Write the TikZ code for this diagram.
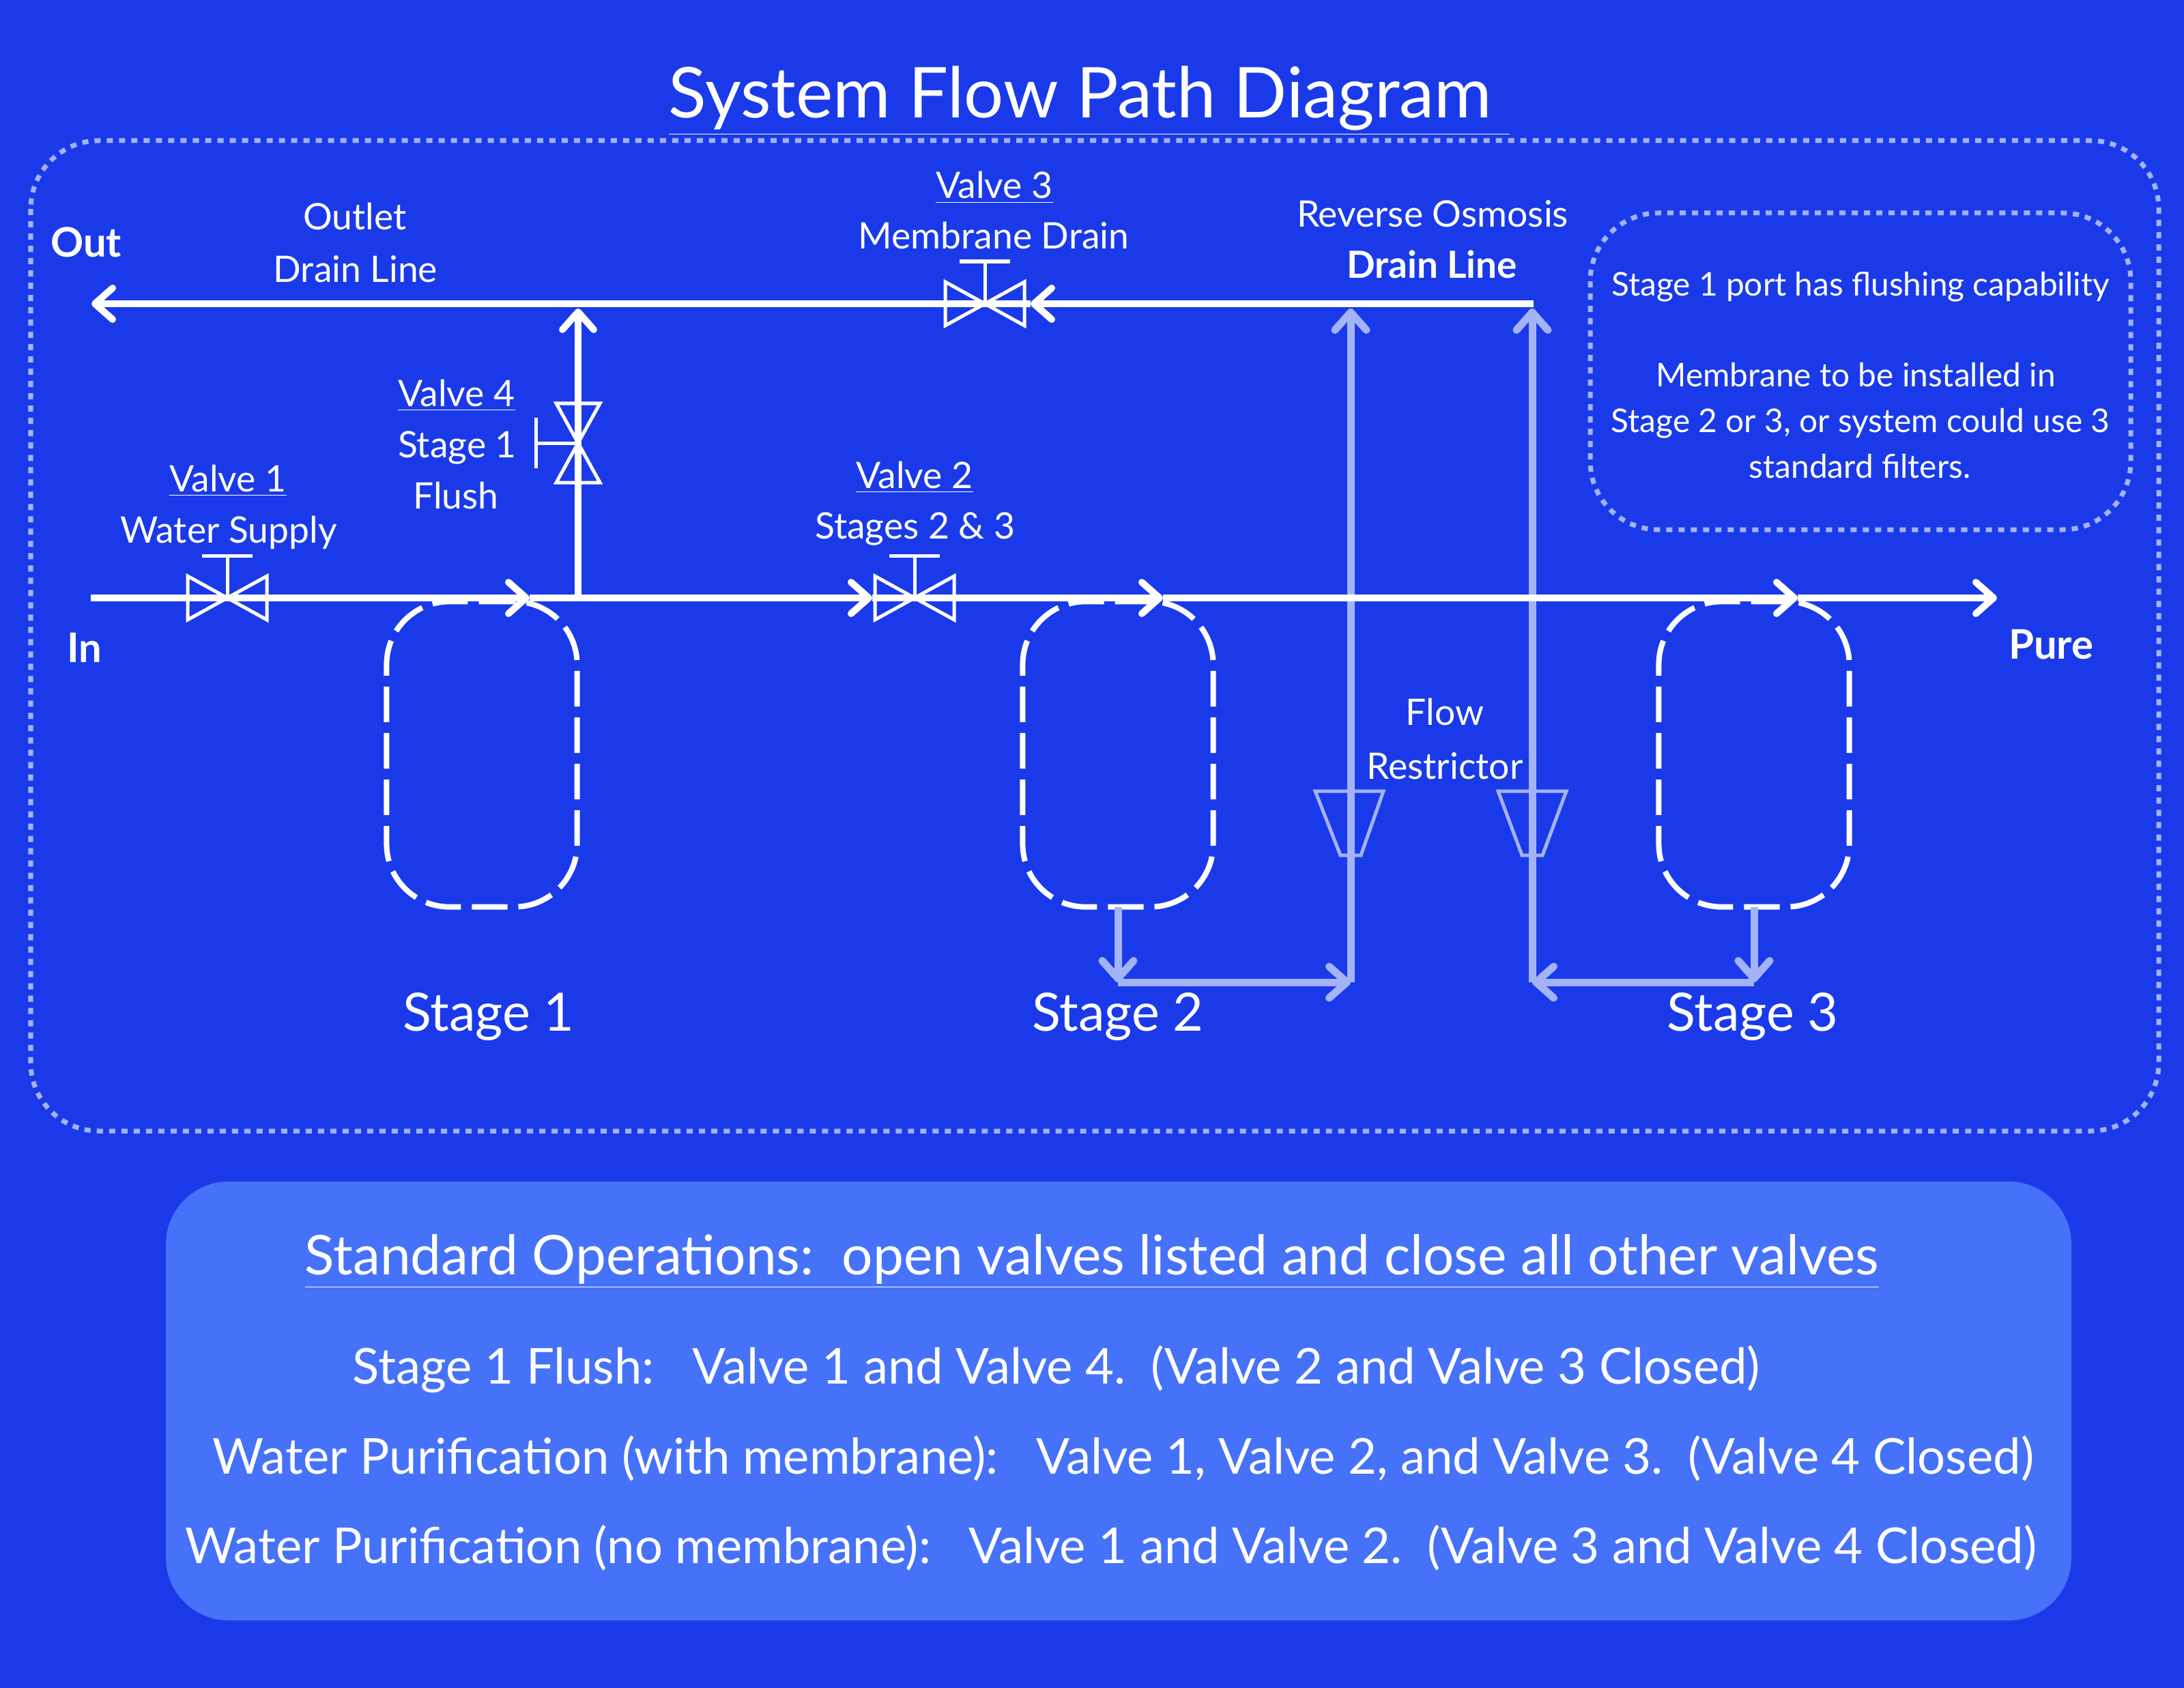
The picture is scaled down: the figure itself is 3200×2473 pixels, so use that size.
\documentclass[tikz,border=0pt]{standalone}
\usepackage{fontspec}
\setmainfont{Lato}
\usetikzlibrary{arrows.meta}
\definecolor{bg}{HTML}{1A3AEA}
\definecolor{pale}{HTML}{A3B3F6}
\definecolor{panel}{HTML}{4672FA}
\tikzset{
  chev/.tip={Straight Barb[length=0.26cm,width=0.46cm,round]},
  pipe/.style={draw=white, line width=0.1cm},
  drain/.style={draw=pale, line width=0.11cm},
  vlv/.style={draw=white, line width=0.05cm, line join=miter},
  restr/.style={draw=pale, line width=0.05cm},
  stagebox/.style={draw=white, line width=0.08cm, rounded corners=0.92cm, dash pattern=on 0.52cm off 0.16cm,
    minimum width=2.79cm, minimum height=4.47cm, inner sep=0, outer sep=0},
  frame/.style={draw=pale, line width=0.07cm, dash pattern=on 0.09cm off 0.09cm, rounded corners=1cm},
  lab/.style={text=white, font=\fontsize{15.2}{18}\selectfont, anchor=base, inner sep=0},
  labb/.style={lab, font=\fontsize{17}{20}\selectfont\bfseries},
  note/.style={lab, font=\fontsize{13.6}{16}\selectfont},
  stlab/.style={lab, font=\fontsize{22}{26}\selectfont},
  oplab/.style={lab, font=\fontsize{20.6}{25}\selectfont},
  valve/.pic={
    \draw[vlv] (-58,-32) -- (58,32) -- (58,-32) -- (-58,32) -- cycle;
    \draw[vlv] (0,0) -- (0,-62) (-37,-62) -- (37,-62);
  },
}
\begin{document}
\begin{tikzpicture}[x=0.01cm, y=-0.01cm]
  \fill[bg] (0,0) rectangle (3200,2473);
  \useasboundingbox (0,0) rectangle (3200,2473);
  % frames
  \draw[frame] (45,206) rectangle (3163,1657);
  \draw[frame] (2330,312) rectangle (3122,776);
  \fill[panel, rounded corners=0.92cm] (243,1731) rectangle (3035,2374);
  \node[lab, font=\fontsize{29.2}{35}\selectfont] (title) at (1596,173) {\underline{System Flow Path Diagram\ }};
  % stages
  \node[stagebox] (stage1) at (706,1105) {};
  \node[stagebox] (stage2) at (1638,1105) {};
  \node[stagebox] (stage3) at (2570,1105) {};
  \node[stlab] (st1) at (716,1510) {Stage 1};
  \node[stlab] (st2) at (1638,1510) {Stage 2};
  \node[stlab] (st3) at (2568,1510) {Stage 3};
  % coordinates
  \coordinate (in) at (133,876);
  \coordinate (a1) at (776,876);
  \coordinate (j4) at (847,876);
  \coordinate (t4) at (847,452);
  \coordinate (v2in) at (1278,876);
  \coordinate (a2) at (1704,876);
  \coordinate (a3) at (2634,876);
  \coordinate (pure) at (2926,876);
  \coordinate (ro) at (2247,445);
  \coordinate (v3in) at (1510,445);
  \coordinate (out) at (134,445);
  \coordinate (d2) at (1638,1439);
  \coordinate (d3) at (2570,1439);
  \coordinate (r2b) at (1979,1439);
  \coordinate (r2t) at (1979,452);
  \coordinate (r3b) at (2245,1439);
  \coordinate (r3t) at (2245,452);
  % drain lines
  \draw[drain, -{chev}] (stage2.south) -- (d2);
  \draw[drain, -{chev}] (d2) -- (r2b);
  \draw[drain, -{chev}] (r2b) -- (r2t);
  \draw[drain, -{chev}] (stage3.south) -- (d3);
  \draw[drain, -{chev}] (d3) -- (r3b);
  \draw[drain, -{chev}] (r3b) -- (r3t);
  \draw[restr] (1927,1159) -- (2027,1159) -- (1994,1253) -- (1964,1253) -- cycle;
  \draw[restr] (2195,1159) -- (2295,1159) -- (2260,1253) -- (2230,1253) -- cycle;
  % pipes
  \draw[pipe, -{chev}] (in) -- (a1);
  \draw[pipe, -{chev}] (a1) -- (v2in);
  \draw[pipe, -{chev}] (v2in) -- (a2);
  \draw[pipe, -{chev}] (a2) -- (a3);
  \draw[pipe, -{chev}] (a3) -- (pure);
  \draw[pipe, -{chev}] (j4) -- (t4);
  \draw[pipe, -{chev}] (ro) -- (v3in);
  \draw[pipe, -{chev}] (v3in) -- (out);
  % valves
  \pic at (333,876) {valve};
  \pic at (1340,876) {valve};
  \pic at (1443,445) {valve};
  \pic[rotate=90] at (847,649) {valve};
  % labels
  \node[labb] (inl) at (124,970) {In};
  \node[labb] (outl) at (126,377) {Out};
  \node[labb] (purel) at (3005,965) {Pure};
  \node[lab] (odl1) at (520,337) {Outlet};
  \node[lab] (odl2) at (521,413) {Drain Line};
  \node[lab] (v1l1) at (334,720) {\underline{Valve 1}};
  \node[lab] (v1l2) at (335,795) {Water Supply};
  \node[lab] (v4l1) at (669,595) {\underline{Valve 4}};
  \node[lab] (v4l2) at (670,670) {Stage 1};
  \node[lab] (v4l3) at (668,745) {Flush};
  \node[lab] (v2l1) at (1340,715) {\underline{Valve 2}};
  \node[lab] (v2l2) at (1341,789) {Stages 2 \& 3};
  \node[lab] (v3l1) at (1457,291) {\underline{Valve 3}};
  \node[lab] (v3l2) at (1456,365) {Membrane Drain};
  \node[lab] (rol1) at (2099,333) {Reverse Osmosis};
  \node[lab, font=\fontsize{15.6}{18}\selectfont\bfseries] (rol2) at (2098,408) {Drain Line};
  \node[lab] (frl1) at (2117,1062) {Flow};
  \node[lab] (frl2) at (2117,1141) {Restrictor};
  % note box
  \node[note] (n1) at (2726,434) {Stage 1 port has flushing capability};
  \node[note] (n2) at (2719,566) {Membrane to be installed in};
  \node[note] (n3) at (2726,633) {Stage 2 or 3, or system could use 3};
  \node[note] (n4) at (2725,700) {standard filters.};
  % operations
  \node[oplab, font=\fontsize{22.8}{27}\selectfont] (op0) at (1600,1867) {\underline{Standard Operations:\ \ open valves listed and close all other valves}};
  \node[oplab] (op1) at (1548,2027) {Stage 1 Flush:\ \ \ Valve 1 and Valve 4.\ \ (Valve 2 and Valve 3 Closed)};
  \node[oplab] (op2) at (1646,2159) {Water Purification (with membrane):\ \ \ Valve 1, Valve 2, and Valve 3.\ \ (Valve 4 Closed)};
  \node[oplab] (op3) at (1628,2290) {Water Purification (no membrane):\ \ \ Valve 1 and Valve 2.\ \ (Valve 3 and Valve 4 Closed)};
\end{tikzpicture}
\end{document}
